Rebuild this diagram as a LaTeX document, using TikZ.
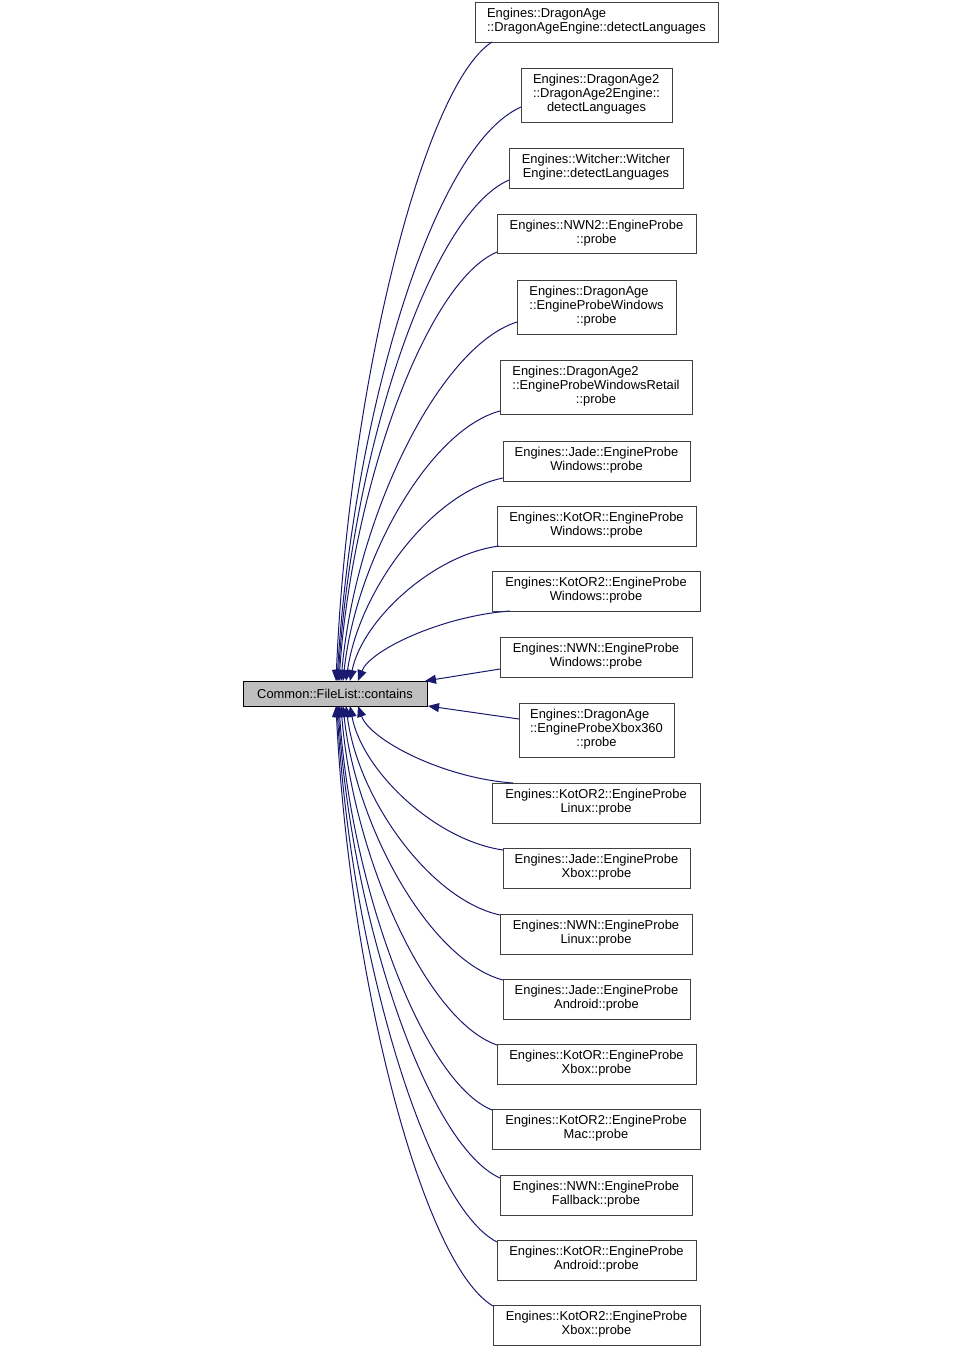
\documentclass[tikz,border=0pt]{standalone}
\usepackage{fontspec}
\setmainfont{Liberation Sans}
\usetikzlibrary{arrows.meta}
\definecolor{edgeblue}{HTML}{191970}
\definecolor{boxgray}{HTML}{404040}
\definecolor{mainfill}{HTML}{BFBFBF}
\newcommand\dlab[2]{\raisebox{-1pt}{\begin{tabular}{@{}l@{}}#1\\\multicolumn{1}{@{}c@{}}{#2}\end{tabular}}}
\newcommand\tlab[3]{\raisebox{-1pt}{\begin{tabular}{@{}l@{}}#1\\#2\\\multicolumn{1}{@{}c@{}}{#3}\end{tabular}}}
\begin{document}
\begin{tikzpicture}[x=1pt,y=-1pt,
  every node/.style={font=\fontsize{12.9}{14}\selectfont},
  fbox/.style={draw=boxgray,line width=1pt,fill=white,inner sep=0pt,outer sep=0pt,align=center},
  mainbox/.style={draw=black,line width=1pt,fill=mainfill,inner sep=0pt,outer sep=0pt,minimum width=184pt,minimum height=25pt},
  edge/.style={draw=edgeblue,line width=1pt,-{Triangle[length=11pt,width=9pt]}}]
\useasboundingbox[fill=white] (0,0) rectangle (960,1347);

\node[mainbox] (main) at (335,693.5) {\raisebox{-0.5pt}{Common::FileList::contains}};

\node[fbox,minimum width=243pt,minimum height=40pt] (b1) at (596.5,22) {\dlab{Engines::DragonAge}{::DragonAgeEngine::detectLanguages}};
\node[fbox,minimum width=151pt,minimum height=54pt] (b2) at (596.5,95) {\tlab{Engines::DragonAge2}{::DragonAge2Engine::}{detectLanguages}};
\node[fbox,minimum width=174pt,minimum height=40pt] (b3) at (596,168) {\dlab{Engines::Witcher::Witcher}{Engine::detectLanguages}};
\node[fbox,minimum width=199pt,minimum height=39pt] (b4) at (596.5,233.5) {\dlab{Engines::NWN2::EngineProbe}{::probe}};
\node[fbox,minimum width=159pt,minimum height=54pt] (b5) at (596.5,307) {\tlab{Engines::DragonAge}{::EngineProbeWindows}{::probe}};
\node[fbox,minimum width=192pt,minimum height=54pt] (b6) at (596,387) {\tlab{Engines::DragonAge2}{::EngineProbeWindowsRetail}{::probe}};
\node[fbox,minimum width=187pt,minimum height=40pt] (b7) at (596.5,461) {\dlab{Engines::Jade::EngineProbe}{Windows::probe}};
\node[fbox,minimum width=199pt,minimum height=40pt] (b8) at (596.5,526) {\dlab{Engines::KotOR::EngineProbe}{Windows::probe}};
\node[fbox,minimum width=208pt,minimum height=40pt] (b9) at (596,591) {\dlab{Engines::KotOR2::EngineProbe}{Windows::probe}};
\node[fbox,minimum width=192pt,minimum height=40pt] (b10) at (596,657) {\dlab{Engines::NWN::EngineProbe}{Windows::probe}};
\node[fbox,minimum width=155pt,minimum height=54pt] (b11) at (596.5,730) {\tlab{Engines::DragonAge}{::EngineProbeXbox360}{::probe}};
\node[fbox,minimum width=208pt,minimum height=40pt] (b12) at (596,803) {\dlab{Engines::KotOR2::EngineProbe}{Linux::probe}};
\node[fbox,minimum width=187pt,minimum height=40pt] (b13) at (596.5,868) {\dlab{Engines::Jade::EngineProbe}{Xbox::probe}};
\node[fbox,minimum width=192pt,minimum height=40pt] (b14) at (596,934) {\dlab{Engines::NWN::EngineProbe}{Linux::probe}};
\node[fbox,minimum width=187pt,minimum height=40pt] (b15) at (596.5,999) {\dlab{Engines::Jade::EngineProbe}{Android::probe}};
\node[fbox,minimum width=199pt,minimum height=40pt] (b16) at (596.5,1064) {\dlab{Engines::KotOR::EngineProbe}{Xbox::probe}};
\node[fbox,minimum width=208pt,minimum height=40pt] (b17) at (596,1129) {\dlab{Engines::KotOR2::EngineProbe}{Mac::probe}};
\node[fbox,minimum width=192pt,minimum height=40pt] (b18) at (596,1195) {\dlab{Engines::NWN::EngineProbe}{Fallback::probe}};
\node[fbox,minimum width=199pt,minimum height=40pt] (b19) at (596.5,1260) {\dlab{Engines::KotOR::EngineProbe}{Android::probe}};
\node[fbox,minimum width=207pt,minimum height=40pt] (b20) at (596.5,1325) {\dlab{Engines::KotOR2::EngineProbe}{Xbox::probe}};

% upper edges
\draw[edge] ([xshift=17pt]b1.south west) .. controls +(-70,45) and +(12,-287) .. ([xshift=1pt]main.north);
\draw[edge] ([yshift=15pt]b2.south west) .. controls +(-90,40) and +(15,-258) .. ([xshift=2pt]main.north);
\draw[edge] ([yshift=8pt]b3.south west) .. controls +(-80,35) and +(14,-225) .. ([xshift=3pt]main.north);
\draw[edge] ([yshift=1pt]b4.south west) .. controls +(-71,30) and +(13,-193) .. ([xshift=4pt]main.north);
\draw[edge] ([yshift=12pt]b5.south west) .. controls +(-79,25) and +(14,-161) .. ([xshift=6pt]main.north);
\draw[edge] ([yshift=3pt]b6.south west) .. controls +(-71,19) and +(13,-121) .. ([xshift=8pt]main.north);
\draw[edge] ([yshift=3pt]b7.south west) .. controls +(-71,14) and +(13,-91) .. ([xshift=11pt]main.north);
\draw[edge] ([xshift=2pt]b8.south west) .. controls +(-67,9) and +(12,-60) .. ([xshift=15pt]main.north);
\draw[edge] ([xshift=18pt]b9.south west) .. controls +(-68,5) and +(12,-31) .. ([xshift=23pt]main.north);
\draw[edge] ([yshift=8pt]b10.south west) -- ([xshift=-2pt]main.north east);
% lower edges
\draw[edge] ([yshift=-16pt]b11.north west) -- ([xshift=1pt]main.south east);
\draw[edge] ([xshift=21pt]b12.north west) .. controls +(-70,-5) and +(12,34) .. ([xshift=23pt]main.south);
\draw[edge] ([yshift=-2pt]b13.north west) .. controls +(-69,-10) and +(12,64) .. ([xshift=15pt]main.south);
\draw[edge] ([yshift=-1pt]b14.north west) .. controls +(-69,-15) and +(12,94) .. ([xshift=11pt]main.south);
\draw[edge] ([yshift=-1pt]b15.north west) .. controls +(-72,-19) and +(13,123) .. ([xshift=8pt]main.south);
\draw[edge] ([yshift=-1pt]b16.north west) .. controls +(-70,-24) and +(12,152) .. ([xshift=6pt]main.south);
\draw[edge] ([yshift=-1pt]b17.north west) .. controls +(-69,-28) and +(12,181) .. ([xshift=4pt]main.south);
\draw[edge] ([yshift=-3pt]b18.north west) .. controls +(-73,-33) and +(13,212) .. ([xshift=3pt]main.south);
\draw[edge] ([yshift=-2pt]b19.north west) .. controls +(-72,-37) and +(13,241) .. ([xshift=2pt]main.south);
\draw[edge] ([yshift=-1pt]b20.north west) .. controls +(-71,-42) and +(13,270) .. ([xshift=1pt]main.south);
\end{tikzpicture}
\end{document}
